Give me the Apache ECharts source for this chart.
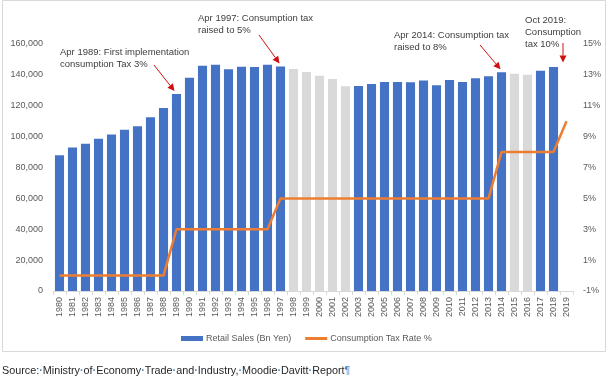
<!DOCTYPE html>
<html><head><meta charset="utf-8">
<script src="https://cdn.jsdelivr.net/npm/echarts@6/dist/echarts.min.js"></script>
<style>html,body{margin:0;padding:0;background:#fff}#c{width:610px;height:381px}</style>
</head><body><div id="c"></div>
<script>
const years = ['1980','1981','1982','1983','1984','1985','1986','1987','1988','1989',
  '1990','1991','1992','1993','1994','1995','1996','1997','1998','1999',
  '2000','2001','2002','2003','2004','2005','2006','2007','2008','2009',
  '2010','2011','2012','2013','2014','2015','2016','2017','2018','2019'];
const retailSales = [88000, 93000, 95400, 98700, 101300, 104500, 106700, 112500, 118500, 127600,
  138200, 145900, 146600, 143600, 145300, 145100, 146600, 145500, 143800, 141900,
  139500, 137300, 132600, 132800, 134100, 135400, 135400, 135200, 136400, 133200,
  136700, 135400, 137800, 139100, 141700, 140800, 140100, 142700, 145100, null];
const taxRate = [0,0,0,0,0,0,0,0,0,3,
  3,3,3,3,3,3,3,5,5,5,
  5,5,5,5,5,5,5,5,5,5,
  5,5,5,5,8,8,8,8,8,10];
const greyYears = ['1998','1999','2000','2001','2002','2015','2016'];
const salesTicks = {min: 0, max: 160000, interval: 20000};
const rateTicks = {min: -1, max: 15, interval: 2};
const annotations = [
  {year: '1989', text: 'Apr 1989: First implementation\nconsumption Tax 3%'},
  {year: '1997', text: 'Apr 1997: Consumption tax\nraised to 5%'},
  {year: '2014', text: 'Apr 2014: Consumption tax\nraised to 8%'},
  {year: '2019', text: 'Oct 2019:\nConsumption\ntax 10%'}
];
const seriesNames = ['Retail Sales (Bn Yen)', 'Consumption Tax Rate %'];
const sourceText = 'Source: Ministry of Economy Trade and Industry, Moodie Davitt Report';

const FONT = 'Liberation Sans';
const BLUE = '#4472C4', GREY = '#D9D9D9', ORANGE = '#ED7D31', RED = '#D01010';
const chart = echarts.init(document.getElementById('c'), null, {renderer: 'canvas'});

const barData = retailSales.map((v, i) => ({
  value: v,
  itemStyle: {color: greyYears.includes(years[i]) ? GREY : BLUE}
}));

chart.setOption({
  animation: false,
  backgroundColor: '#fff',
  textStyle: {fontFamily: FONT},
  grid: {left: 53, right: 37, top: 44, bottom: 90, containLabel: false},
  legend: {
    left: 176, top: 329,
    itemWidth: 22, itemHeight: 5, itemGap: 14,
    textStyle: {color: '#595959', fontSize: 9, fontFamily: FONT, padding: [0, 0, 0, -2]},
    data: [
      {name: seriesNames[0], icon: 'rect'},
      {name: seriesNames[1], icon: 'path://M0,0L22,0L22,3L0,3Z'}
    ]
  },
  xAxis: {
    type: 'category', data: years,
    axisLine: {lineStyle: {color: '#D9D9D9'}},
    axisTick: {show: true, alignWithLabel: false, length: 4, lineStyle: {color: '#D9D9D9'}},
    axisLabel: {rotate: 90, color: '#595959', fontSize: 9, fontFamily: FONT, margin: 6, interval: 0}
  },
  yAxis: [
    {
      type: 'value', min: salesTicks.min, max: salesTicks.max, interval: salesTicks.interval,
      splitLine: {show: false}, axisLine: {show: false}, axisTick: {show: false},
      axisLabel: {color: '#595959', fontSize: 9, fontFamily: FONT, margin: 10,
        formatter: v => v.toLocaleString('en-US')}
    },
    {
      type: 'value', min: rateTicks.min, max: rateTicks.max, interval: rateTicks.interval,
      splitLine: {show: false}, axisLine: {show: false}, axisTick: {show: false},
      axisLabel: {color: '#595959', fontSize: 9, fontFamily: FONT, margin: 10,
        formatter: v => v + '%'}
    }
  ],
  series: [
    {name: seriesNames[0], type: 'bar', data: barData, barCategoryGap: '30%',
      itemStyle: {color: BLUE}, z: 2},
    {name: seriesNames[1], type: 'line', yAxisIndex: 1, data: taxRate, symbol: 'none',
      lineStyle: {color: ORANGE, width: 2.5}, itemStyle: {color: ORANGE}, z: 3}
  ]
});

function arrow(x1, y1, x2, y2) {
  const a = Math.atan2(y2 - y1, x2 - x1), L = 7, W = 3.5;
  const bx = x2 - L * Math.cos(a), by = y2 - L * Math.sin(a);
  const px = -Math.sin(a) * W, py = Math.cos(a) * W;
  return [
    {type: 'line', shape: {x1, y1, x2: bx, y2: by}, style: {stroke: RED, lineWidth: 1}, z: 10},
    {type: 'polygon', shape: {points: [[x2, y2], [bx + px, by + py], [bx - px, by - py]]},
      style: {fill: RED}, z: 10}
  ];
}

function px(year, val) { return chart.convertToPixel({xAxisIndex: 0, yAxisIndex: 0}, [year, val]); }

// text placement (layout) for each annotation
const layout = [
  {x: 60, y: 46, from: [154, 65], dx: -2, dy: -3},
  {x: 198, y: 12, from: [259, 35], dx: -1, dy: -3},
  {x: 394, y: 29, from: [480, 45], dx: -1, dy: -3},
  {x: 525, y: 14, from: [563, 43], dx: -3, dy: -3}
];
const graphics = [];
annotations.forEach((an, i) => {
  const L = layout[i];
  graphics.push({type: 'text', left: L.x, top: L.y, z: 10,
    style: {text: an.text, fill: '#404040', font: '9.5px "' + FONT + '"', lineHeight: 12}});
  const idx = years.indexOf(an.year);
  const v = retailSales[idx] != null ? retailSales[idx] : 146000;
  const p = px(an.year, v);
  const tipX = (i === 3) ? L.from[0] : p[0] + L.dx;
  graphics.push(...arrow(L.from[0], L.from[1], tipX, p[1] + L.dy));
});
graphics.push({type: 'rect', shape: {x: 2.5, y: 0.5, width: 603, height: 351},
  style: {fill: null, stroke: '#D9D9D9', lineWidth: 1}, z: -1, silent: true});
const srcRich = sourceText.split(' ').join('{d|·}') + '{p|¶}';
graphics.push({type: 'text', left: 2, top: 366, z: 10,
  style: {text: srcRich, fill: '#262626', font: '10.8px "' + FONT + '"',
    rich: {d: {fill: '#4A86C8', fontSize: 10.8, fontWeight: 'bold', fontFamily: FONT},
           p: {fill: '#4A86C8', fontSize: 10.8, fontFamily: FONT}}}});
chart.setOption({graphic: {elements: graphics}});
</script></body></html>
